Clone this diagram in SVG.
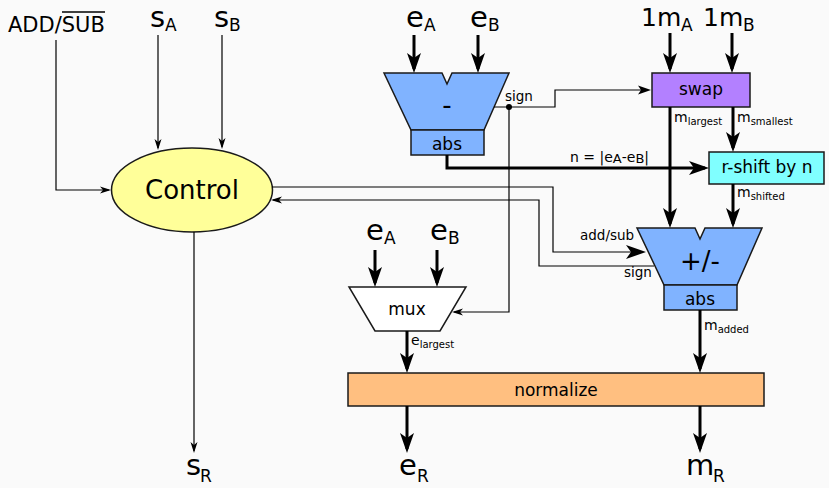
<svg xmlns="http://www.w3.org/2000/svg" width="829" height="488" viewBox="0 0 829 488">
<style>
text{font-family:"DejaVu Sans","Liberation Sans",sans-serif;fill:#000}
.blk{stroke:#1a1a1a;stroke-width:1.5}
.thick{fill:none;stroke:#000;stroke-width:3}
.thin{fill:none;stroke:#000;stroke-width:1.2}
.mid{text-anchor:middle}
</style>
<defs>
<marker id="ab" markerUnits="userSpaceOnUse" viewBox="-17 -8 22 16" refX="0" refY="0" markerWidth="22" markerHeight="16" orient="auto"><path d="M4,0 L-16,-7 L-11,0 L-16,7 Z" fill="#000"/></marker>
<marker id="am" markerUnits="userSpaceOnUse" viewBox="-11 -6 15 12" refX="0" refY="0" markerWidth="15" markerHeight="12" orient="auto"><path d="M3,0 L-10,-4.5 L-7,0 L-10,4.5 Z" fill="#000"/></marker>
<marker id="as" markerUnits="userSpaceOnUse" viewBox="-10 -5 13 10" refX="0" refY="0" markerWidth="13" markerHeight="10" orient="auto"><path d="M2,0 L-9,-3.5 L-6,0 L-9,3.5 Z" fill="#000"/></marker>
</defs>
<rect x="0" y="0" width="829" height="488" fill="#fafafa"/>

<g id="inputs">
<text x="8" y="32" font-size="21">ADD/SUB</text>
<line x1="62" y1="12" x2="105" y2="12" stroke="#000" stroke-width="1.3"/>
<text x="150" y="27" font-size="29">s<tspan x="165" y="31" font-size="17">A</tspan></text>
<text x="214" y="27" font-size="29">s<tspan x="229" y="31" font-size="17">B</tspan></text>
<text x="406" y="27" font-size="29">e<tspan x="424" y="31" font-size="17">A</tspan></text>
<text x="470" y="27" font-size="29">e<tspan x="488" y="31" font-size="17">B</tspan></text>
<text x="641" y="26" font-size="25">1m<tspan x="681" y="31" font-size="17">A</tspan></text>
<text x="703" y="26" font-size="25">1m<tspan x="743" y="31" font-size="17">B</tspan></text>
<text x="366" y="240" font-size="29">e<tspan x="384" y="244" font-size="17">A</tspan></text>
<text x="430" y="240" font-size="29">e<tspan x="448" y="244" font-size="17">B</tspan></text>
</g>

<g id="outputs">
<text x="186" y="475" font-size="29">s<tspan x="200" y="482" font-size="17">R</tspan></text>
<text x="399" y="475" font-size="29">e<tspan x="417" y="482" font-size="17">R</tspan></text>
<text x="686" y="475" font-size="29">m<tspan x="713" y="482" font-size="17">R</tspan></text>
</g>

<g id="control">
<ellipse cx="192" cy="190" rx="80.5" ry="42" fill="#ffff99" class="blk"/>
<text x="192" y="199" font-size="26" class="mid">Control</text>
</g>

<g id="subtract">
<polygon points="384,73 442,73 447,84 452,73 509,73 484,130 411,130" fill="#80b3ff" class="blk"/>
<text x="447" y="114" font-size="26" class="mid">-</text>
<rect x="411" y="130" width="73" height="25" fill="#80b3ff" class="blk"/>
<text x="447" y="150" font-size="17" class="mid">abs</text>
</g>

<g id="swap">
<rect x="652" y="73" width="98" height="34" fill="#b380ff" class="blk"/>
<text x="701" y="95" font-size="17" class="mid">swap</text>
</g>

<g id="rshift">
<rect x="709" y="152" width="115" height="32" fill="#80ffff" class="blk"/>
<text x="767" y="173" font-size="17" class="mid">r-shift by n</text>
</g>

<g id="addsub">
<polygon points="637,228 695,228 700,239 705,228 762,228 737,285 664,285" fill="#80b3ff" class="blk"/>
<text x="700" y="270" font-size="26" class="mid">+/-</text>
<rect x="664" y="285" width="73" height="25" fill="#80b3ff" class="blk"/>
<text x="700" y="305" font-size="17" class="mid">abs</text>
</g>

<g id="mux">
<polygon points="349,287 466,287 440,331 375,331" fill="#ffffff" class="blk"/>
<text x="407" y="315" font-size="17" class="mid">mux</text>
</g>

<g id="normalize">
<rect x="348" y="373" width="416" height="33" fill="#ffbf80" class="blk"/>
<text x="556" y="396" font-size="17" class="mid">normalize</text>
</g>

<g id="connectors">
<line x1="414" y1="35" x2="414" y2="69" class="thick" marker-end="url(#ab)"/>
<line x1="478" y1="35" x2="478" y2="69" class="thick" marker-end="url(#ab)"/>
<line x1="670" y1="33" x2="670" y2="69" class="thick" marker-end="url(#ab)"/>
<line x1="732" y1="33" x2="732" y2="69" class="thick" marker-end="url(#ab)"/>
<line x1="158" y1="35" x2="158" y2="148" class="thin" marker-end="url(#as)"/>
<line x1="222" y1="35" x2="222" y2="147" class="thin" marker-end="url(#as)"/>
<polyline points="56,40 56,190 109,190" class="thin" marker-end="url(#as)"/>
<line x1="194" y1="232" x2="194" y2="451" class="thin" marker-end="url(#as)"/>
<polyline points="272,187 553,187 553,252 642,252" class="thin" marker-end="url(#ab)"/>
<polyline points="654,266 539,266 539,200 273,200" class="thin" marker-end="url(#as)"/>
<polyline points="494,107 555,107 555,90 648,90" class="thin" marker-end="url(#am)"/>
<polyline points="509,107 509,312 454,312" class="thin" marker-end="url(#as)"/>
<circle cx="509" cy="107" r="3" fill="#000"/>
<polyline points="447,155 447,168 705,168" class="thick" marker-end="url(#ab)"/>
<line x1="670" y1="107" x2="670" y2="224" class="thick" marker-end="url(#ab)"/>
<line x1="733" y1="107" x2="733" y2="148" class="thick" marker-end="url(#ab)"/>
<line x1="733" y1="184" x2="733" y2="224" class="thick" marker-end="url(#ab)"/>
<line x1="375" y1="250" x2="375" y2="283" class="thick" marker-end="url(#ab)"/>
<line x1="437" y1="250" x2="437" y2="283" class="thick" marker-end="url(#ab)"/>
<line x1="407" y1="331" x2="407" y2="369" class="thick" marker-end="url(#ab)"/>
<line x1="700" y1="310" x2="700" y2="369" class="thick" marker-end="url(#ab)"/>
<line x1="407" y1="406" x2="407" y2="449" class="thick" marker-end="url(#ab)"/>
<line x1="700" y1="406" x2="700" y2="449" class="thick" marker-end="url(#ab)"/>
<text x="505" y="101" font-size="13.5">sign</text>
<text x="570" y="162" font-size="14">n = |e<tspan font-size="13" dy="1">A</tspan><tspan dy="-1">-e</tspan><tspan font-size="13" dy="1">B</tspan><tspan dy="-1">|</tspan></text>
<text x="580" y="240" font-size="13.5">add/sub</text>
<text x="624" y="277" font-size="13.5">sign</text>
<text x="674" y="122" font-size="14">m<tspan font-size="10" dy="3">largest</tspan></text>
<text x="737" y="122" font-size="14">m<tspan font-size="10" dy="3">smallest</tspan></text>
<text x="737" y="197" font-size="14">m<tspan font-size="10" dy="3">shifted</tspan></text>
<text x="704" y="330" font-size="14">m<tspan font-size="10" dy="3">added</tspan></text>
<text x="411" y="345" font-size="14">e<tspan font-size="10" dy="3">largest</tspan></text>
</g>
</svg>
